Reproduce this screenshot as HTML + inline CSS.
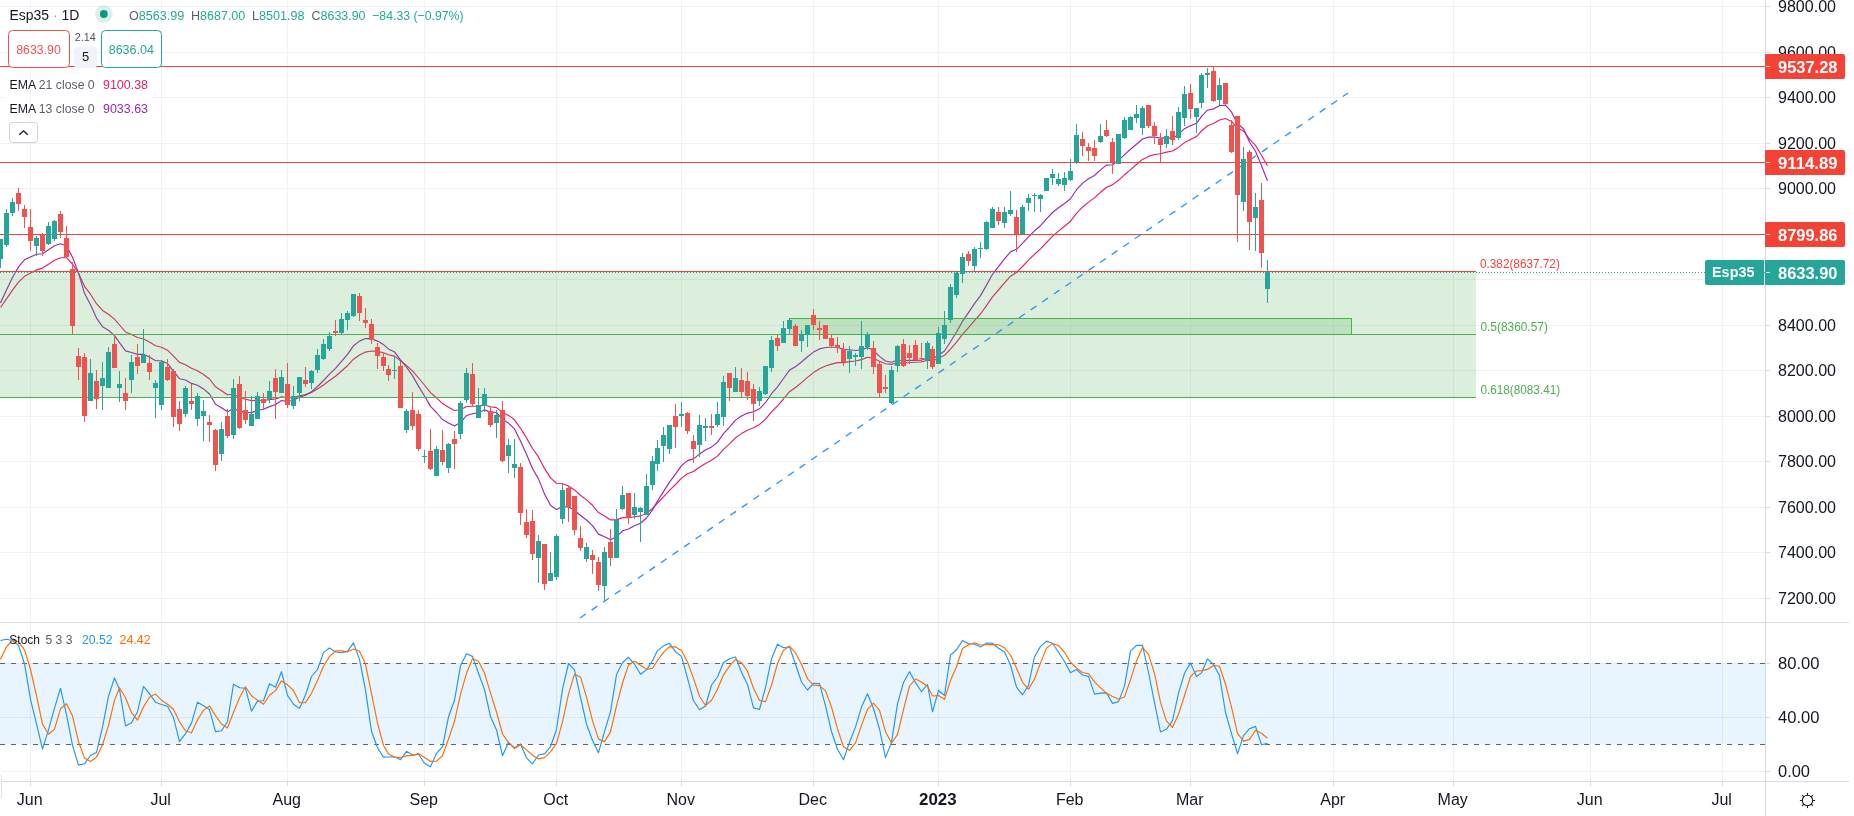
<!DOCTYPE html><html><head><meta charset="utf-8"><title>Esp35 chart</title><style>html,body{margin:0;padding:0;background:#fff;overflow:hidden}svg{display:block;will-change:transform}</style></head><body><svg width="1854" height="816" viewBox="0 0 1854 816" font-family="'Liberation Sans', sans-serif">
<rect width="1854" height="816" fill="#fff"/>
<g shape-rendering="crispEdges" fill="#f0f1f3">
<rect x="30" y="0" width="1" height="781"/>
<rect x="161" y="0" width="1" height="781"/>
<rect x="287" y="0" width="1" height="781"/>
<rect x="424" y="0" width="1" height="781"/>
<rect x="556" y="0" width="1" height="781"/>
<rect x="681" y="0" width="1" height="781"/>
<rect x="813" y="0" width="1" height="781"/>
<rect x="938" y="0" width="1" height="781"/>
<rect x="1070" y="0" width="1" height="781"/>
<rect x="1190" y="0" width="1" height="781"/>
<rect x="1333" y="0" width="1" height="781"/>
<rect x="1453" y="0" width="1" height="781"/>
<rect x="1590" y="0" width="1" height="781"/>
<rect x="1722" y="0" width="1" height="781"/>
<rect x="0" y="598" width="1765" height="1"/>
<rect x="0" y="552" width="1765" height="1"/>
<rect x="0" y="507" width="1765" height="1"/>
<rect x="0" y="461" width="1765" height="1"/>
<rect x="0" y="416" width="1765" height="1"/>
<rect x="0" y="370" width="1765" height="1"/>
<rect x="0" y="325" width="1765" height="1"/>
<rect x="0" y="279" width="1765" height="1"/>
<rect x="0" y="234" width="1765" height="1"/>
<rect x="0" y="188" width="1765" height="1"/>
<rect x="0" y="143" width="1765" height="1"/>
<rect x="0" y="97" width="1765" height="1"/>
<rect x="0" y="52" width="1765" height="1"/>
<rect x="0" y="6" width="1765" height="1"/>
<rect x="0" y="771" width="1765" height="1"/>
<rect x="0" y="717" width="1765" height="1"/>
<rect x="0" y="663" width="1765" height="1"/>
</g>
<polyline points="0.5,307.5 6.5,298.9 12.5,290.1 18.5,282.2 24.5,276.3 30.5,273.1 36.5,269.9 42.5,268.1 48.5,264.3 54.5,260.3 60.5,257.8 66.5,257.7 72.5,264.0 78.5,273.3 84.5,286.3 90.5,294.2 96.5,303.7 102.5,310.4 108.5,314.2 114.5,319.1 119.5,325.0 125.5,331.9 131.5,334.6 137.5,337.5 143.5,339.0 149.5,342.0 155.5,345.8 161.5,347.2 167.5,350.2 173.5,356.2 179.5,362.4 185.5,364.7 191.5,368.2 197.5,370.8 203.5,374.5 209.5,379.0 215.5,386.8 221.5,390.7 227.5,394.8 233.5,394.2 239.5,397.2 245.5,399.3 251.5,400.6 257.5,400.2 263.5,400.4 269.5,399.6 275.5,398.9 281.5,396.9 287.5,397.6 293.5,397.5 299.5,395.7 305.5,394.6 311.5,392.4 317.5,389.0 323.5,385.0 329.5,380.5 335.5,376.2 341.5,371.0 347.5,365.7 353.5,359.2 359.5,355.0 365.5,352.1 371.5,351.0 377.5,351.4 383.5,352.7 388.5,354.7 394.5,356.1 400.5,360.8 406.5,365.4 412.5,370.9 418.5,378.0 424.5,385.0 430.5,392.6 436.5,397.8 442.5,403.6 448.5,407.2 454.5,410.5 460.5,409.8 466.5,406.5 472.5,406.2 478.5,406.1 484.5,405.0 490.5,406.8 496.5,407.6 502.5,412.4 508.5,415.4 514.5,419.8 520.5,428.3 526.5,437.9 532.5,448.5 538.5,456.9 544.5,468.4 550.5,477.9 556.5,483.2 562.5,483.8 568.5,486.0 574.5,489.9 580.5,495.2 586.5,499.9 592.5,505.3 598.5,512.6 604.5,516.1 610.5,519.9 616.5,519.9 622.5,517.6 628.5,517.7 634.5,516.7 640.5,515.9 646.5,513.2 652.5,508.5 657.5,503.0 663.5,496.8 669.5,490.3 675.5,484.5 681.5,478.1 687.5,473.8 693.5,471.5 699.5,467.3 705.5,463.6 711.5,460.3 717.5,456.1 723.5,449.4 729.5,443.8 735.5,437.8 741.5,433.6 747.5,430.2 753.5,427.8 759.5,424.4 765.5,419.1 771.5,411.9 777.5,405.9 783.5,398.8 789.5,391.7 795.5,387.5 801.5,382.6 807.5,377.4 813.5,372.6 819.5,368.7 825.5,366.0 831.5,364.1 837.5,362.6 843.5,362.6 849.5,361.6 855.5,361.0 861.5,359.6 867.5,357.3 873.5,358.2 879.5,361.3 885.5,363.8 891.5,364.4 897.5,362.7 903.5,363.0 909.5,362.5 915.5,362.3 921.5,362.0 927.5,360.3 932.5,360.9 938.5,358.3 944.5,355.3 950.5,349.1 956.5,342.2 962.5,334.4 968.5,327.7 974.5,320.6 980.5,314.0 986.5,305.6 992.5,296.9 998.5,290.0 1004.5,282.9 1010.5,276.2 1016.5,272.4 1022.5,266.5 1028.5,260.2 1034.5,254.3 1040.5,248.9 1046.5,242.5 1052.5,236.3 1058.5,231.1 1064.5,226.3 1070.5,221.2 1076.5,213.4 1082.5,207.2 1088.5,202.1 1094.5,197.9 1100.5,192.3 1106.5,187.2 1112.5,184.9 1118.5,180.3 1124.5,174.8 1130.5,169.6 1136.5,164.5 1142.5,159.4 1148.5,156.4 1154.5,154.5 1160.5,153.7 1166.5,152.1 1172.5,151.0 1178.5,147.4 1184.5,142.6 1190.5,139.5 1196.5,136.6 1201.5,131.0 1207.5,125.8 1213.5,123.5 1219.5,120.0 1225.5,118.5 1231.5,121.5 1237.5,128.2 1243.5,131.0 1249.5,139.2 1255.5,145.4 1261.5,155.2 1267.5,165.8" fill="none" stroke="#e91e63" stroke-width="1.15" stroke-linejoin="round"/>
<polyline points="0.5,302.9 6.5,290.1 12.5,277.5 18.5,266.9 24.5,259.8 30.5,257.1 36.5,254.3 42.5,253.8 48.5,249.8 54.5,245.7 60.5,243.8 66.5,245.7 72.5,257.2 78.5,272.9 84.5,293.3 90.5,304.7 96.5,318.1 102.5,326.7 108.5,330.3 114.5,335.6 119.5,342.6 125.5,350.9 131.5,352.5 137.5,354.4 143.5,354.4 149.5,357.0 155.5,360.7 161.5,360.8 167.5,363.6 173.5,371.1 179.5,378.7 185.5,380.0 191.5,383.4 197.5,385.2 203.5,388.9 209.5,394.0 215.5,404.2 221.5,407.7 227.5,411.8 233.5,408.4 239.5,411.1 245.5,412.4 251.5,412.6 257.5,410.2 263.5,409.2 269.5,406.6 275.5,404.5 281.5,400.6 287.5,401.2 293.5,400.5 299.5,397.1 305.5,395.2 311.5,391.8 317.5,386.5 323.5,380.5 329.5,374.2 335.5,368.3 341.5,361.3 347.5,354.4 353.5,345.8 359.5,341.1 365.5,338.5 371.5,338.6 377.5,341.1 383.5,344.6 388.5,348.9 394.5,351.9 400.5,359.9 406.5,367.2 412.5,375.6 418.5,386.1 424.5,396.0 430.5,406.4 436.5,412.5 442.5,419.5 448.5,423.0 454.5,425.9 460.5,422.6 466.5,415.5 472.5,413.8 478.5,412.6 484.5,409.9 490.5,412.1 496.5,412.5 502.5,419.4 508.5,423.1 514.5,428.9 520.5,440.9 526.5,454.3 532.5,468.5 538.5,478.9 544.5,493.9 550.5,505.2 556.5,509.6 562.5,506.8 568.5,506.9 574.5,510.1 580.5,515.5 586.5,520.0 592.5,525.7 598.5,534.1 604.5,536.7 610.5,539.7 616.5,536.8 622.5,530.8 628.5,529.0 634.5,525.8 640.5,523.3 646.5,518.0 652.5,509.9 657.5,501.0 663.5,491.6 669.5,482.1 675.5,474.2 681.5,465.6 687.5,460.6 693.5,458.9 699.5,454.1 705.5,450.1 711.5,446.9 717.5,442.2 723.5,433.6 729.5,427.1 735.5,420.1 741.5,416.0 747.5,413.1 753.5,411.8 759.5,408.8 765.5,402.7 771.5,393.7 777.5,386.9 783.5,378.5 789.5,370.1 795.5,366.7 801.5,362.0 807.5,356.7 813.5,352.1 819.5,348.9 825.5,347.5 831.5,347.2 837.5,347.3 843.5,349.4 849.5,349.7 855.5,350.5 861.5,349.8 867.5,347.6 873.5,350.3 879.5,356.4 885.5,361.0 891.5,362.3 897.5,360.0 903.5,360.8 909.5,360.4 915.5,360.4 921.5,360.2 927.5,357.7 932.5,359.0 938.5,355.3 944.5,351.0 950.5,341.8 956.5,332.0 962.5,321.3 968.5,312.6 974.5,303.6 980.5,295.6 986.5,285.1 992.5,274.3 998.5,266.6 1004.5,258.8 1010.5,251.9 1016.5,249.3 1022.5,243.3 1028.5,236.8 1034.5,230.8 1040.5,225.7 1046.5,218.9 1052.5,212.5 1058.5,207.7 1064.5,203.5 1070.5,198.8 1076.5,189.7 1082.5,183.4 1088.5,178.8 1094.5,175.5 1100.5,169.9 1106.5,165.1 1112.5,164.7 1118.5,160.3 1124.5,154.6 1130.5,149.2 1136.5,144.2 1142.5,139.0 1148.5,137.1 1154.5,137.0 1160.5,138.1 1166.5,137.9 1172.5,138.2 1178.5,134.4 1184.5,128.7 1190.5,125.8 1196.5,123.3 1201.5,116.4 1207.5,110.2 1213.5,108.9 1219.5,105.5 1225.5,105.2 1231.5,111.9 1237.5,123.7 1243.5,128.7 1249.5,142.0 1255.5,151.3 1261.5,165.8 1267.5,180.9" fill="none" stroke="#9c27b0" stroke-width="1.15" stroke-linejoin="round"/>
<rect x="0" y="271.5" width="1476" height="126" fill="#4caf50" fill-opacity="0.2"/>
<rect x="789.5" y="318.5" width="562" height="16" fill="#4caf50" fill-opacity="0.2" stroke="#4caf50" stroke-width="1"/>
<g shape-rendering="crispEdges">
<rect x="0" y="271" width="1476" height="1" fill="#f44336"/>
<rect x="0" y="334" width="1476" height="1" fill="#4caf50"/>
<rect x="0" y="397" width="1476" height="1" fill="#4caf50"/>
<rect x="0" y="66" width="1765" height="1" fill="#f44336"/>
<rect x="0" y="162" width="1765" height="1" fill="#f44336"/>
<rect x="0" y="234" width="1765" height="1" fill="#f44336"/>
</g>
<line x1="580" y1="618" x2="1348" y2="93" stroke="#2196f3" stroke-width="1.3" stroke-dasharray="7 7"/>
<g shape-rendering="crispEdges">
<rect x="0" y="239" width="1" height="29" fill="#26a69a"/>
<rect x="-2" y="239" width="5" height="20" fill="#26a69a"/>
<rect x="6" y="209" width="1" height="38" fill="#26a69a"/>
<rect x="4" y="213" width="5" height="32" fill="#26a69a"/>
<rect x="12" y="198" width="1" height="18" fill="#26a69a"/>
<rect x="10" y="202" width="5" height="11" fill="#26a69a"/>
<rect x="18" y="188" width="1" height="23" fill="#ef5350"/>
<rect x="16" y="193" width="5" height="11" fill="#ef5350"/>
<rect x="24" y="205" width="1" height="23" fill="#ef5350"/>
<rect x="22" y="209" width="5" height="8" fill="#ef5350"/>
<rect x="30" y="209" width="1" height="42" fill="#ef5350"/>
<rect x="28" y="227" width="5" height="14" fill="#ef5350"/>
<rect x="36" y="236" width="1" height="20" fill="#26a69a"/>
<rect x="34" y="238" width="5" height="8" fill="#26a69a"/>
<rect x="42" y="233" width="1" height="23" fill="#ef5350"/>
<rect x="40" y="234" width="5" height="17" fill="#ef5350"/>
<rect x="48" y="222" width="1" height="23" fill="#26a69a"/>
<rect x="46" y="226" width="5" height="18" fill="#26a69a"/>
<rect x="54" y="220" width="1" height="21" fill="#26a69a"/>
<rect x="52" y="221" width="5" height="18" fill="#26a69a"/>
<rect x="60" y="211" width="1" height="27" fill="#ef5350"/>
<rect x="58" y="214" width="5" height="18" fill="#ef5350"/>
<rect x="66" y="226" width="1" height="31" fill="#ef5350"/>
<rect x="64" y="238" width="5" height="19" fill="#ef5350"/>
<rect x="72" y="262" width="1" height="72" fill="#ef5350"/>
<rect x="70" y="269" width="5" height="57" fill="#ef5350"/>
<rect x="78" y="348" width="1" height="32" fill="#ef5350"/>
<rect x="76" y="356" width="5" height="11" fill="#ef5350"/>
<rect x="84" y="353" width="1" height="69" fill="#ef5350"/>
<rect x="82" y="357" width="5" height="59" fill="#ef5350"/>
<rect x="90" y="359" width="1" height="42" fill="#26a69a"/>
<rect x="88" y="373" width="5" height="28" fill="#26a69a"/>
<rect x="96" y="370" width="1" height="39" fill="#ef5350"/>
<rect x="94" y="381" width="5" height="18" fill="#ef5350"/>
<rect x="102" y="362" width="1" height="48" fill="#26a69a"/>
<rect x="100" y="378" width="5" height="8" fill="#26a69a"/>
<rect x="108" y="347" width="1" height="41" fill="#26a69a"/>
<rect x="106" y="352" width="5" height="36" fill="#26a69a"/>
<rect x="114" y="334" width="1" height="34" fill="#ef5350"/>
<rect x="112" y="344" width="5" height="24" fill="#ef5350"/>
<rect x="119" y="371" width="1" height="31" fill="#26a69a"/>
<rect x="117" y="384" width="5" height="4" fill="#26a69a"/>
<rect x="125" y="378" width="1" height="32" fill="#ef5350"/>
<rect x="123" y="393" width="5" height="8" fill="#ef5350"/>
<rect x="131" y="355" width="1" height="38" fill="#26a69a"/>
<rect x="129" y="362" width="5" height="18" fill="#26a69a"/>
<rect x="137" y="344" width="1" height="30" fill="#ef5350"/>
<rect x="135" y="357" width="5" height="9" fill="#ef5350"/>
<rect x="143" y="329" width="1" height="34" fill="#26a69a"/>
<rect x="141" y="355" width="5" height="8" fill="#26a69a"/>
<rect x="149" y="355" width="1" height="25" fill="#ef5350"/>
<rect x="147" y="363" width="5" height="9" fill="#ef5350"/>
<rect x="155" y="380" width="1" height="38" fill="#26a69a"/>
<rect x="153" y="383" width="5" height="5" fill="#26a69a"/>
<rect x="161" y="361" width="1" height="49" fill="#26a69a"/>
<rect x="159" y="362" width="5" height="43" fill="#26a69a"/>
<rect x="167" y="359" width="1" height="22" fill="#ef5350"/>
<rect x="165" y="367" width="5" height="13" fill="#ef5350"/>
<rect x="173" y="369" width="1" height="58" fill="#ef5350"/>
<rect x="171" y="371" width="5" height="46" fill="#ef5350"/>
<rect x="179" y="401" width="1" height="30" fill="#ef5350"/>
<rect x="177" y="409" width="5" height="15" fill="#ef5350"/>
<rect x="185" y="386" width="1" height="31" fill="#26a69a"/>
<rect x="183" y="388" width="5" height="26" fill="#26a69a"/>
<rect x="191" y="384" width="1" height="26" fill="#ef5350"/>
<rect x="189" y="401" width="5" height="3" fill="#ef5350"/>
<rect x="197" y="393" width="1" height="33" fill="#26a69a"/>
<rect x="195" y="396" width="5" height="23" fill="#26a69a"/>
<rect x="203" y="400" width="1" height="41" fill="#26a69a"/>
<rect x="201" y="411" width="5" height="5" fill="#26a69a"/>
<rect x="209" y="415" width="1" height="27" fill="#ef5350"/>
<rect x="207" y="422" width="5" height="3" fill="#ef5350"/>
<rect x="215" y="429" width="1" height="42" fill="#ef5350"/>
<rect x="213" y="430" width="5" height="35" fill="#ef5350"/>
<rect x="221" y="422" width="1" height="39" fill="#26a69a"/>
<rect x="219" y="429" width="5" height="25" fill="#26a69a"/>
<rect x="227" y="409" width="1" height="29" fill="#ef5350"/>
<rect x="225" y="416" width="5" height="20" fill="#ef5350"/>
<rect x="233" y="379" width="1" height="60" fill="#26a69a"/>
<rect x="231" y="388" width="5" height="47" fill="#26a69a"/>
<rect x="239" y="376" width="1" height="53" fill="#ef5350"/>
<rect x="237" y="384" width="5" height="44" fill="#ef5350"/>
<rect x="245" y="391" width="1" height="33" fill="#ef5350"/>
<rect x="243" y="410" width="5" height="10" fill="#ef5350"/>
<rect x="251" y="396" width="1" height="30" fill="#26a69a"/>
<rect x="249" y="414" width="5" height="12" fill="#26a69a"/>
<rect x="257" y="392" width="1" height="27" fill="#26a69a"/>
<rect x="255" y="396" width="5" height="23" fill="#26a69a"/>
<rect x="263" y="393" width="1" height="16" fill="#ef5350"/>
<rect x="261" y="399" width="5" height="4" fill="#ef5350"/>
<rect x="269" y="381" width="1" height="22" fill="#26a69a"/>
<rect x="267" y="391" width="5" height="8" fill="#26a69a"/>
<rect x="275" y="369" width="1" height="50" fill="#ef5350"/>
<rect x="273" y="378" width="5" height="14" fill="#ef5350"/>
<rect x="281" y="370" width="1" height="23" fill="#26a69a"/>
<rect x="279" y="377" width="5" height="16" fill="#26a69a"/>
<rect x="287" y="363" width="1" height="45" fill="#ef5350"/>
<rect x="285" y="384" width="5" height="21" fill="#ef5350"/>
<rect x="293" y="386" width="1" height="23" fill="#26a69a"/>
<rect x="291" y="396" width="5" height="10" fill="#26a69a"/>
<rect x="299" y="377" width="1" height="24" fill="#26a69a"/>
<rect x="297" y="377" width="5" height="16" fill="#26a69a"/>
<rect x="305" y="367" width="1" height="20" fill="#ef5350"/>
<rect x="303" y="380" width="5" height="4" fill="#ef5350"/>
<rect x="311" y="370" width="1" height="19" fill="#26a69a"/>
<rect x="309" y="371" width="5" height="12" fill="#26a69a"/>
<rect x="317" y="349" width="1" height="24" fill="#26a69a"/>
<rect x="315" y="355" width="5" height="15" fill="#26a69a"/>
<rect x="323" y="339" width="1" height="21" fill="#26a69a"/>
<rect x="321" y="344" width="5" height="15" fill="#26a69a"/>
<rect x="329" y="332" width="1" height="19" fill="#26a69a"/>
<rect x="327" y="336" width="5" height="13" fill="#26a69a"/>
<rect x="335" y="320" width="1" height="16" fill="#ef5350"/>
<rect x="333" y="331" width="5" height="2" fill="#ef5350"/>
<rect x="341" y="313" width="1" height="21" fill="#26a69a"/>
<rect x="339" y="319" width="5" height="14" fill="#26a69a"/>
<rect x="347" y="311" width="1" height="19" fill="#26a69a"/>
<rect x="345" y="313" width="5" height="7" fill="#26a69a"/>
<rect x="353" y="294" width="1" height="23" fill="#26a69a"/>
<rect x="351" y="294" width="5" height="22" fill="#26a69a"/>
<rect x="359" y="293" width="1" height="28" fill="#ef5350"/>
<rect x="357" y="296" width="5" height="17" fill="#ef5350"/>
<rect x="365" y="308" width="1" height="20" fill="#ef5350"/>
<rect x="363" y="320" width="5" height="3" fill="#ef5350"/>
<rect x="371" y="319" width="1" height="25" fill="#ef5350"/>
<rect x="369" y="324" width="5" height="16" fill="#ef5350"/>
<rect x="377" y="343" width="1" height="26" fill="#ef5350"/>
<rect x="375" y="347" width="5" height="9" fill="#ef5350"/>
<rect x="383" y="353" width="1" height="18" fill="#ef5350"/>
<rect x="381" y="357" width="5" height="9" fill="#ef5350"/>
<rect x="388" y="365" width="1" height="16" fill="#ef5350"/>
<rect x="386" y="369" width="5" height="6" fill="#ef5350"/>
<rect x="394" y="356" width="1" height="23" fill="#26a69a"/>
<rect x="392" y="370" width="5" height="1" fill="#26a69a"/>
<rect x="400" y="361" width="1" height="47" fill="#ef5350"/>
<rect x="398" y="366" width="5" height="42" fill="#ef5350"/>
<rect x="406" y="409" width="1" height="24" fill="#26a69a"/>
<rect x="404" y="411" width="5" height="19" fill="#26a69a"/>
<rect x="412" y="392" width="1" height="38" fill="#ef5350"/>
<rect x="410" y="410" width="5" height="16" fill="#ef5350"/>
<rect x="418" y="410" width="1" height="41" fill="#ef5350"/>
<rect x="416" y="414" width="5" height="35" fill="#ef5350"/>
<rect x="424" y="450" width="1" height="13" fill="#26a69a"/>
<rect x="422" y="456" width="5" height="1" fill="#26a69a"/>
<rect x="430" y="429" width="1" height="41" fill="#ef5350"/>
<rect x="428" y="451" width="5" height="18" fill="#ef5350"/>
<rect x="436" y="446" width="1" height="30" fill="#26a69a"/>
<rect x="434" y="449" width="5" height="27" fill="#26a69a"/>
<rect x="442" y="430" width="1" height="35" fill="#ef5350"/>
<rect x="440" y="450" width="5" height="12" fill="#ef5350"/>
<rect x="448" y="443" width="1" height="30" fill="#26a69a"/>
<rect x="446" y="444" width="5" height="24" fill="#26a69a"/>
<rect x="454" y="431" width="1" height="38" fill="#ef5350"/>
<rect x="452" y="439" width="5" height="5" fill="#ef5350"/>
<rect x="460" y="401" width="1" height="38" fill="#26a69a"/>
<rect x="458" y="403" width="5" height="31" fill="#26a69a"/>
<rect x="466" y="368" width="1" height="35" fill="#26a69a"/>
<rect x="464" y="373" width="5" height="27" fill="#26a69a"/>
<rect x="472" y="363" width="1" height="43" fill="#ef5350"/>
<rect x="470" y="374" width="5" height="30" fill="#ef5350"/>
<rect x="478" y="388" width="1" height="30" fill="#26a69a"/>
<rect x="476" y="405" width="5" height="13" fill="#26a69a"/>
<rect x="484" y="388" width="1" height="24" fill="#26a69a"/>
<rect x="482" y="394" width="5" height="12" fill="#26a69a"/>
<rect x="490" y="407" width="1" height="20" fill="#ef5350"/>
<rect x="488" y="411" width="5" height="14" fill="#ef5350"/>
<rect x="496" y="410" width="1" height="28" fill="#26a69a"/>
<rect x="494" y="415" width="5" height="8" fill="#26a69a"/>
<rect x="502" y="401" width="1" height="61" fill="#ef5350"/>
<rect x="500" y="410" width="5" height="51" fill="#ef5350"/>
<rect x="508" y="439" width="1" height="34" fill="#26a69a"/>
<rect x="506" y="445" width="5" height="11" fill="#26a69a"/>
<rect x="514" y="439" width="1" height="39" fill="#26a69a"/>
<rect x="512" y="464" width="5" height="4" fill="#26a69a"/>
<rect x="520" y="463" width="1" height="62" fill="#ef5350"/>
<rect x="518" y="467" width="5" height="46" fill="#ef5350"/>
<rect x="526" y="509" width="1" height="29" fill="#ef5350"/>
<rect x="524" y="522" width="5" height="13" fill="#ef5350"/>
<rect x="532" y="510" width="1" height="50" fill="#ef5350"/>
<rect x="530" y="521" width="5" height="33" fill="#ef5350"/>
<rect x="538" y="535" width="1" height="48" fill="#26a69a"/>
<rect x="536" y="541" width="5" height="17" fill="#26a69a"/>
<rect x="544" y="544" width="1" height="46" fill="#ef5350"/>
<rect x="542" y="544" width="5" height="40" fill="#ef5350"/>
<rect x="550" y="552" width="1" height="29" fill="#26a69a"/>
<rect x="548" y="573" width="5" height="8" fill="#26a69a"/>
<rect x="556" y="534" width="1" height="46" fill="#26a69a"/>
<rect x="554" y="536" width="5" height="41" fill="#26a69a"/>
<rect x="562" y="484" width="1" height="40" fill="#26a69a"/>
<rect x="560" y="490" width="5" height="29" fill="#26a69a"/>
<rect x="568" y="486" width="1" height="36" fill="#ef5350"/>
<rect x="566" y="488" width="5" height="19" fill="#ef5350"/>
<rect x="574" y="496" width="1" height="39" fill="#ef5350"/>
<rect x="572" y="496" width="5" height="34" fill="#ef5350"/>
<rect x="580" y="526" width="1" height="25" fill="#ef5350"/>
<rect x="578" y="538" width="5" height="10" fill="#ef5350"/>
<rect x="586" y="543" width="1" height="19" fill="#26a69a"/>
<rect x="584" y="547" width="5" height="12" fill="#26a69a"/>
<rect x="592" y="550" width="1" height="24" fill="#ef5350"/>
<rect x="590" y="555" width="5" height="5" fill="#ef5350"/>
<rect x="598" y="557" width="1" height="34" fill="#ef5350"/>
<rect x="596" y="562" width="5" height="23" fill="#ef5350"/>
<rect x="604" y="547" width="1" height="55" fill="#26a69a"/>
<rect x="602" y="552" width="5" height="34" fill="#26a69a"/>
<rect x="610" y="529" width="1" height="37" fill="#ef5350"/>
<rect x="608" y="542" width="5" height="16" fill="#ef5350"/>
<rect x="616" y="509" width="1" height="49" fill="#26a69a"/>
<rect x="614" y="520" width="5" height="38" fill="#26a69a"/>
<rect x="622" y="486" width="1" height="24" fill="#26a69a"/>
<rect x="620" y="495" width="5" height="14" fill="#26a69a"/>
<rect x="628" y="493" width="1" height="31" fill="#ef5350"/>
<rect x="626" y="493" width="5" height="25" fill="#ef5350"/>
<rect x="634" y="493" width="1" height="26" fill="#26a69a"/>
<rect x="632" y="507" width="5" height="8" fill="#26a69a"/>
<rect x="640" y="507" width="1" height="35" fill="#26a69a"/>
<rect x="638" y="508" width="5" height="4" fill="#26a69a"/>
<rect x="646" y="474" width="1" height="41" fill="#26a69a"/>
<rect x="644" y="486" width="5" height="29" fill="#26a69a"/>
<rect x="652" y="456" width="1" height="34" fill="#26a69a"/>
<rect x="650" y="461" width="5" height="24" fill="#26a69a"/>
<rect x="657" y="440" width="1" height="31" fill="#26a69a"/>
<rect x="655" y="448" width="5" height="16" fill="#26a69a"/>
<rect x="663" y="427" width="1" height="35" fill="#26a69a"/>
<rect x="661" y="435" width="5" height="11" fill="#26a69a"/>
<rect x="669" y="425" width="1" height="29" fill="#26a69a"/>
<rect x="667" y="425" width="5" height="24" fill="#26a69a"/>
<rect x="675" y="404" width="1" height="44" fill="#ef5350"/>
<rect x="673" y="416" width="5" height="11" fill="#ef5350"/>
<rect x="681" y="402" width="1" height="25" fill="#26a69a"/>
<rect x="679" y="414" width="5" height="2" fill="#26a69a"/>
<rect x="687" y="412" width="1" height="22" fill="#ef5350"/>
<rect x="685" y="413" width="5" height="18" fill="#ef5350"/>
<rect x="693" y="435" width="1" height="28" fill="#ef5350"/>
<rect x="691" y="441" width="5" height="8" fill="#ef5350"/>
<rect x="699" y="415" width="1" height="42" fill="#26a69a"/>
<rect x="697" y="425" width="5" height="20" fill="#26a69a"/>
<rect x="705" y="418" width="1" height="23" fill="#26a69a"/>
<rect x="703" y="426" width="5" height="2" fill="#26a69a"/>
<rect x="711" y="414" width="1" height="21" fill="#ef5350"/>
<rect x="709" y="426" width="5" height="2" fill="#ef5350"/>
<rect x="717" y="402" width="1" height="25" fill="#26a69a"/>
<rect x="715" y="414" width="5" height="11" fill="#26a69a"/>
<rect x="723" y="376" width="1" height="50" fill="#26a69a"/>
<rect x="721" y="382" width="5" height="35" fill="#26a69a"/>
<rect x="729" y="373" width="1" height="28" fill="#ef5350"/>
<rect x="727" y="373" width="5" height="15" fill="#ef5350"/>
<rect x="735" y="367" width="1" height="25" fill="#26a69a"/>
<rect x="733" y="378" width="5" height="14" fill="#26a69a"/>
<rect x="741" y="368" width="1" height="29" fill="#ef5350"/>
<rect x="739" y="380" width="5" height="12" fill="#ef5350"/>
<rect x="747" y="372" width="1" height="28" fill="#ef5350"/>
<rect x="745" y="381" width="5" height="15" fill="#ef5350"/>
<rect x="753" y="384" width="1" height="37" fill="#ef5350"/>
<rect x="751" y="389" width="5" height="15" fill="#ef5350"/>
<rect x="759" y="387" width="1" height="19" fill="#26a69a"/>
<rect x="757" y="391" width="5" height="10" fill="#26a69a"/>
<rect x="765" y="366" width="1" height="29" fill="#26a69a"/>
<rect x="763" y="366" width="5" height="28" fill="#26a69a"/>
<rect x="771" y="336" width="1" height="36" fill="#26a69a"/>
<rect x="769" y="340" width="5" height="28" fill="#26a69a"/>
<rect x="777" y="335" width="1" height="16" fill="#ef5350"/>
<rect x="775" y="338" width="5" height="8" fill="#ef5350"/>
<rect x="783" y="321" width="1" height="22" fill="#26a69a"/>
<rect x="781" y="328" width="5" height="15" fill="#26a69a"/>
<rect x="789" y="318" width="1" height="16" fill="#26a69a"/>
<rect x="787" y="320" width="5" height="9" fill="#26a69a"/>
<rect x="795" y="324" width="1" height="22" fill="#ef5350"/>
<rect x="793" y="326" width="5" height="20" fill="#ef5350"/>
<rect x="801" y="330" width="1" height="22" fill="#26a69a"/>
<rect x="799" y="334" width="5" height="7" fill="#26a69a"/>
<rect x="807" y="325" width="1" height="22" fill="#26a69a"/>
<rect x="805" y="325" width="5" height="10" fill="#26a69a"/>
<rect x="813" y="309" width="1" height="21" fill="#ef5350"/>
<rect x="811" y="315" width="5" height="10" fill="#ef5350"/>
<rect x="819" y="321" width="1" height="19" fill="#ef5350"/>
<rect x="817" y="328" width="5" height="2" fill="#ef5350"/>
<rect x="825" y="325" width="1" height="14" fill="#ef5350"/>
<rect x="823" y="325" width="5" height="14" fill="#ef5350"/>
<rect x="831" y="334" width="1" height="14" fill="#ef5350"/>
<rect x="829" y="338" width="5" height="8" fill="#ef5350"/>
<rect x="837" y="337" width="1" height="16" fill="#ef5350"/>
<rect x="835" y="345" width="5" height="3" fill="#ef5350"/>
<rect x="843" y="343" width="1" height="23" fill="#ef5350"/>
<rect x="841" y="349" width="5" height="13" fill="#ef5350"/>
<rect x="849" y="346" width="1" height="27" fill="#26a69a"/>
<rect x="847" y="351" width="5" height="8" fill="#26a69a"/>
<rect x="855" y="353" width="1" height="13" fill="#26a69a"/>
<rect x="853" y="355" width="5" height="2" fill="#26a69a"/>
<rect x="861" y="321" width="1" height="48" fill="#26a69a"/>
<rect x="859" y="346" width="5" height="11" fill="#26a69a"/>
<rect x="867" y="332" width="1" height="18" fill="#26a69a"/>
<rect x="865" y="334" width="5" height="13" fill="#26a69a"/>
<rect x="873" y="341" width="1" height="33" fill="#ef5350"/>
<rect x="871" y="348" width="5" height="19" fill="#ef5350"/>
<rect x="879" y="362" width="1" height="36" fill="#ef5350"/>
<rect x="877" y="364" width="5" height="29" fill="#ef5350"/>
<rect x="885" y="375" width="1" height="18" fill="#ef5350"/>
<rect x="883" y="387" width="5" height="2" fill="#ef5350"/>
<rect x="891" y="366" width="1" height="38" fill="#26a69a"/>
<rect x="889" y="370" width="5" height="33" fill="#26a69a"/>
<rect x="897" y="345" width="1" height="27" fill="#26a69a"/>
<rect x="895" y="346" width="5" height="20" fill="#26a69a"/>
<rect x="903" y="339" width="1" height="28" fill="#ef5350"/>
<rect x="901" y="344" width="5" height="22" fill="#ef5350"/>
<rect x="909" y="345" width="1" height="19" fill="#ef5350"/>
<rect x="907" y="353" width="5" height="5" fill="#ef5350"/>
<rect x="915" y="340" width="1" height="21" fill="#ef5350"/>
<rect x="913" y="345" width="5" height="15" fill="#ef5350"/>
<rect x="921" y="343" width="1" height="19" fill="#ef5350"/>
<rect x="919" y="358" width="5" height="1" fill="#ef5350"/>
<rect x="927" y="341" width="1" height="28" fill="#26a69a"/>
<rect x="925" y="343" width="5" height="17" fill="#26a69a"/>
<rect x="932" y="346" width="1" height="23" fill="#ef5350"/>
<rect x="930" y="349" width="5" height="18" fill="#ef5350"/>
<rect x="938" y="327" width="1" height="37" fill="#26a69a"/>
<rect x="936" y="333" width="5" height="31" fill="#26a69a"/>
<rect x="944" y="311" width="1" height="33" fill="#26a69a"/>
<rect x="942" y="325" width="5" height="14" fill="#26a69a"/>
<rect x="950" y="284" width="1" height="39" fill="#26a69a"/>
<rect x="948" y="287" width="5" height="33" fill="#26a69a"/>
<rect x="956" y="271" width="1" height="27" fill="#26a69a"/>
<rect x="954" y="273" width="5" height="22" fill="#26a69a"/>
<rect x="962" y="253" width="1" height="30" fill="#26a69a"/>
<rect x="960" y="257" width="5" height="17" fill="#26a69a"/>
<rect x="968" y="251" width="1" height="15" fill="#ef5350"/>
<rect x="966" y="254" width="5" height="7" fill="#ef5350"/>
<rect x="974" y="247" width="1" height="24" fill="#26a69a"/>
<rect x="972" y="249" width="5" height="17" fill="#26a69a"/>
<rect x="980" y="242" width="1" height="16" fill="#26a69a"/>
<rect x="978" y="248" width="5" height="1" fill="#26a69a"/>
<rect x="986" y="221" width="1" height="29" fill="#26a69a"/>
<rect x="984" y="222" width="5" height="27" fill="#26a69a"/>
<rect x="992" y="207" width="1" height="21" fill="#26a69a"/>
<rect x="990" y="209" width="5" height="19" fill="#26a69a"/>
<rect x="998" y="207" width="1" height="18" fill="#ef5350"/>
<rect x="996" y="212" width="5" height="9" fill="#ef5350"/>
<rect x="1004" y="207" width="1" height="21" fill="#26a69a"/>
<rect x="1002" y="212" width="5" height="11" fill="#26a69a"/>
<rect x="1010" y="191" width="1" height="25" fill="#26a69a"/>
<rect x="1008" y="210" width="5" height="4" fill="#26a69a"/>
<rect x="1016" y="210" width="1" height="42" fill="#ef5350"/>
<rect x="1014" y="217" width="5" height="17" fill="#ef5350"/>
<rect x="1022" y="205" width="1" height="29" fill="#26a69a"/>
<rect x="1020" y="207" width="5" height="27" fill="#26a69a"/>
<rect x="1028" y="194" width="1" height="17" fill="#26a69a"/>
<rect x="1026" y="198" width="5" height="5" fill="#26a69a"/>
<rect x="1034" y="193" width="1" height="19" fill="#26a69a"/>
<rect x="1032" y="195" width="5" height="1" fill="#26a69a"/>
<rect x="1040" y="194" width="1" height="18" fill="#26a69a"/>
<rect x="1038" y="195" width="5" height="4" fill="#26a69a"/>
<rect x="1046" y="178" width="1" height="13" fill="#26a69a"/>
<rect x="1044" y="178" width="5" height="13" fill="#26a69a"/>
<rect x="1052" y="169" width="1" height="16" fill="#26a69a"/>
<rect x="1050" y="174" width="5" height="4" fill="#26a69a"/>
<rect x="1058" y="173" width="1" height="13" fill="#26a69a"/>
<rect x="1056" y="179" width="5" height="5" fill="#26a69a"/>
<rect x="1064" y="172" width="1" height="19" fill="#26a69a"/>
<rect x="1062" y="178" width="5" height="7" fill="#26a69a"/>
<rect x="1070" y="159" width="1" height="22" fill="#26a69a"/>
<rect x="1068" y="171" width="5" height="9" fill="#26a69a"/>
<rect x="1076" y="124" width="1" height="40" fill="#26a69a"/>
<rect x="1074" y="135" width="5" height="27" fill="#26a69a"/>
<rect x="1082" y="132" width="1" height="24" fill="#ef5350"/>
<rect x="1080" y="139" width="5" height="7" fill="#ef5350"/>
<rect x="1088" y="143" width="1" height="18" fill="#ef5350"/>
<rect x="1086" y="147" width="5" height="4" fill="#ef5350"/>
<rect x="1094" y="140" width="1" height="21" fill="#ef5350"/>
<rect x="1092" y="148" width="5" height="8" fill="#ef5350"/>
<rect x="1100" y="124" width="1" height="19" fill="#26a69a"/>
<rect x="1098" y="136" width="5" height="6" fill="#26a69a"/>
<rect x="1106" y="120" width="1" height="17" fill="#ef5350"/>
<rect x="1104" y="130" width="5" height="6" fill="#ef5350"/>
<rect x="1112" y="138" width="1" height="36" fill="#ef5350"/>
<rect x="1110" y="142" width="5" height="20" fill="#ef5350"/>
<rect x="1118" y="134" width="1" height="30" fill="#26a69a"/>
<rect x="1116" y="134" width="5" height="30" fill="#26a69a"/>
<rect x="1124" y="117" width="1" height="22" fill="#26a69a"/>
<rect x="1122" y="120" width="5" height="18" fill="#26a69a"/>
<rect x="1130" y="116" width="1" height="14" fill="#26a69a"/>
<rect x="1128" y="117" width="5" height="13" fill="#26a69a"/>
<rect x="1136" y="105" width="1" height="18" fill="#26a69a"/>
<rect x="1134" y="114" width="5" height="4" fill="#26a69a"/>
<rect x="1142" y="106" width="1" height="29" fill="#26a69a"/>
<rect x="1140" y="108" width="5" height="20" fill="#26a69a"/>
<rect x="1148" y="105" width="1" height="23" fill="#ef5350"/>
<rect x="1146" y="105" width="5" height="21" fill="#ef5350"/>
<rect x="1154" y="122" width="1" height="22" fill="#ef5350"/>
<rect x="1152" y="126" width="5" height="10" fill="#ef5350"/>
<rect x="1160" y="133" width="1" height="29" fill="#ef5350"/>
<rect x="1158" y="139" width="5" height="6" fill="#ef5350"/>
<rect x="1166" y="129" width="1" height="19" fill="#26a69a"/>
<rect x="1164" y="136" width="5" height="8" fill="#26a69a"/>
<rect x="1172" y="116" width="1" height="29" fill="#ef5350"/>
<rect x="1170" y="131" width="5" height="9" fill="#ef5350"/>
<rect x="1178" y="107" width="1" height="33" fill="#26a69a"/>
<rect x="1176" y="112" width="5" height="26" fill="#26a69a"/>
<rect x="1184" y="86" width="1" height="40" fill="#26a69a"/>
<rect x="1182" y="94" width="5" height="24" fill="#26a69a"/>
<rect x="1190" y="84" width="1" height="35" fill="#ef5350"/>
<rect x="1188" y="93" width="5" height="16" fill="#ef5350"/>
<rect x="1196" y="108" width="1" height="25" fill="#26a69a"/>
<rect x="1194" y="108" width="5" height="9" fill="#26a69a"/>
<rect x="1201" y="73" width="1" height="35" fill="#26a69a"/>
<rect x="1199" y="75" width="5" height="28" fill="#26a69a"/>
<rect x="1207" y="68" width="1" height="20" fill="#26a69a"/>
<rect x="1205" y="73" width="5" height="2" fill="#26a69a"/>
<rect x="1213" y="67" width="1" height="35" fill="#ef5350"/>
<rect x="1211" y="71" width="5" height="30" fill="#ef5350"/>
<rect x="1219" y="78" width="1" height="27" fill="#26a69a"/>
<rect x="1217" y="85" width="5" height="15" fill="#26a69a"/>
<rect x="1225" y="83" width="1" height="22" fill="#ef5350"/>
<rect x="1223" y="83" width="5" height="21" fill="#ef5350"/>
<rect x="1231" y="120" width="1" height="33" fill="#ef5350"/>
<rect x="1229" y="125" width="5" height="27" fill="#ef5350"/>
<rect x="1237" y="116" width="1" height="126" fill="#ef5350"/>
<rect x="1235" y="116" width="5" height="79" fill="#ef5350"/>
<rect x="1243" y="147" width="1" height="64" fill="#26a69a"/>
<rect x="1241" y="159" width="5" height="43" fill="#26a69a"/>
<rect x="1249" y="150" width="1" height="100" fill="#ef5350"/>
<rect x="1247" y="152" width="5" height="70" fill="#ef5350"/>
<rect x="1255" y="193" width="1" height="58" fill="#26a69a"/>
<rect x="1253" y="207" width="5" height="11" fill="#26a69a"/>
<rect x="1261" y="183" width="1" height="85" fill="#ef5350"/>
<rect x="1259" y="200" width="5" height="53" fill="#ef5350"/>
<rect x="1267" y="260" width="1" height="43" fill="#26a69a"/>
<rect x="1265" y="272" width="5" height="17" fill="#26a69a"/>
</g>
<line x1="0" y1="272.5" x2="1765" y2="272.5" stroke="#26a69a" stroke-width="1" stroke-dasharray="1 2" shape-rendering="crispEdges"/>
<rect x="0" y="663.5" width="1765" height="80.9" fill="#2196f3" fill-opacity="0.1"/>
<line x1="0" y1="663.5" x2="1765" y2="663.5" stroke="#5d6277" stroke-width="1" stroke-dasharray="5 6" shape-rendering="crispEdges"/>
<line x1="0" y1="744.5" x2="1765" y2="744.5" stroke="#5d6277" stroke-width="1" stroke-dasharray="5 6" shape-rendering="crispEdges"/>
<polyline points="0.5,640.5 6.5,639.2 12.5,640.5 18.5,645.4 24.5,663.7 30.5,699.3 36.5,723.9 42.5,749.2 48.5,729.9 54.5,708.2 60.5,688.3 66.5,714.7 72.5,745.3 78.5,765.1 84.5,763.8 90.5,755.5 96.5,752.5 102.5,727.1 108.5,696.3 114.5,677.9 119.5,689.3 125.5,726.0 131.5,722.7 137.5,711.7 143.5,686.4 149.5,693.7 155.5,702.3 161.5,704.5 167.5,706.3 173.5,717.6 179.5,741.6 185.5,733.7 191.5,723.1 197.5,702.2 203.5,705.8 209.5,709.6 215.5,731.6 221.5,730.8 227.5,721.6 233.5,684.2 239.5,687.8 245.5,688.3 251.5,711.1 257.5,701.1 263.5,700.8 269.5,683.7 275.5,687.2 281.5,671.7 287.5,695.4 293.5,704.3 299.5,708.4 305.5,695.1 311.5,676.5 317.5,669.5 323.5,652.6 329.5,647.9 335.5,652.0 341.5,652.7 347.5,651.4 353.5,642.9 359.5,659.4 365.5,690.1 371.5,731.3 377.5,747.7 383.5,757.1 388.5,757.0 394.5,756.8 400.5,759.7 406.5,751.3 412.5,755.1 418.5,754.2 424.5,763.2 430.5,766.8 436.5,753.3 442.5,746.9 448.5,716.8 454.5,700.3 460.5,665.8 466.5,653.8 472.5,656.4 478.5,673.3 484.5,689.6 490.5,716.5 496.5,729.9 502.5,755.7 508.5,742.3 514.5,747.8 520.5,744.1 526.5,757.8 532.5,763.8 538.5,755.0 544.5,753.9 550.5,746.7 556.5,729.5 562.5,689.2 568.5,663.5 574.5,669.9 580.5,697.3 586.5,724.0 592.5,740.5 598.5,752.7 604.5,731.6 610.5,711.6 616.5,674.6 622.5,662.7 628.5,657.3 634.5,664.0 640.5,674.3 646.5,669.9 652.5,660.8 657.5,650.6 663.5,645.9 669.5,643.3 675.5,651.7 681.5,656.4 687.5,678.1 693.5,700.8 699.5,709.8 705.5,706.0 711.5,685.0 717.5,677.0 723.5,662.5 729.5,658.8 735.5,657.0 741.5,672.2 747.5,684.4 753.5,707.9 759.5,709.5 765.5,687.5 771.5,658.7 777.5,644.2 783.5,647.8 789.5,646.7 795.5,664.2 801.5,682.0 807.5,690.0 813.5,683.3 819.5,683.6 825.5,705.8 831.5,731.5 837.5,749.3 843.5,759.7 849.5,742.2 855.5,726.9 861.5,707.1 867.5,693.8 873.5,708.5 879.5,729.0 885.5,757.6 891.5,742.4 897.5,703.8 903.5,682.5 909.5,671.7 915.5,682.6 921.5,691.7 927.5,684.5 932.5,711.8 938.5,690.5 944.5,695.5 950.5,655.1 956.5,649.7 962.5,640.6 968.5,643.8 974.5,644.1 980.5,647.1 986.5,643.0 992.5,643.2 998.5,648.2 1004.5,651.9 1010.5,665.0 1016.5,687.2 1022.5,694.8 1028.5,685.5 1034.5,656.7 1040.5,646.4 1046.5,641.1 1052.5,643.3 1058.5,652.2 1064.5,661.5 1070.5,672.8 1076.5,669.6 1082.5,675.0 1088.5,676.4 1094.5,694.1 1100.5,693.1 1106.5,692.9 1112.5,703.4 1118.5,701.6 1124.5,686.1 1130.5,651.2 1136.5,645.4 1142.5,645.4 1148.5,672.5 1154.5,702.6 1160.5,732.0 1166.5,729.1 1172.5,720.7 1178.5,693.1 1184.5,673.3 1190.5,663.0 1196.5,676.5 1201.5,672.9 1207.5,658.9 1213.5,664.5 1219.5,675.5 1225.5,712.5 1231.5,733.6 1237.5,753.9 1243.5,735.6 1249.5,728.7 1255.5,726.4 1261.5,744.8 1267.5,743.4" fill="none" stroke="#2196f3" stroke-width="1.15" stroke-linejoin="round"/>
<polyline points="0.5,659.4 6.5,646.8 12.5,640.1 18.5,641.7 24.5,649.9 30.5,669.5 36.5,695.6 42.5,724.1 48.5,734.3 54.5,729.1 60.5,708.8 66.5,703.7 72.5,716.1 78.5,741.7 84.5,758.1 90.5,761.5 96.5,757.3 102.5,745.0 108.5,725.3 114.5,700.4 119.5,687.8 125.5,697.8 131.5,712.7 137.5,720.1 143.5,706.9 149.5,697.3 155.5,694.1 161.5,700.2 167.5,704.3 173.5,709.5 179.5,721.8 185.5,731.0 191.5,732.8 197.5,719.7 203.5,710.4 209.5,705.9 215.5,715.7 221.5,724.0 227.5,728.0 233.5,712.2 239.5,697.8 245.5,686.8 251.5,695.8 257.5,700.2 263.5,704.3 269.5,695.2 275.5,690.6 281.5,680.9 287.5,684.8 293.5,690.5 299.5,702.7 305.5,702.6 311.5,693.3 317.5,680.4 323.5,666.2 329.5,656.6 335.5,650.8 341.5,650.9 347.5,652.0 353.5,649.0 359.5,651.2 365.5,664.1 371.5,693.6 377.5,723.0 383.5,745.4 388.5,754.0 394.5,757.0 400.5,757.8 406.5,755.9 412.5,755.4 418.5,753.5 424.5,757.5 430.5,761.4 436.5,761.1 442.5,755.7 448.5,739.0 454.5,721.3 460.5,694.3 466.5,673.3 472.5,658.7 478.5,661.2 484.5,673.1 490.5,693.1 496.5,712.0 502.5,734.0 508.5,742.6 514.5,748.6 520.5,744.7 526.5,749.9 532.5,755.2 538.5,758.9 544.5,757.6 550.5,751.9 556.5,743.4 562.5,721.8 568.5,694.1 574.5,674.2 580.5,676.9 586.5,697.1 592.5,720.6 598.5,739.1 604.5,741.6 610.5,731.9 616.5,705.9 622.5,683.0 628.5,664.9 634.5,661.3 640.5,665.2 646.5,669.4 652.5,668.3 657.5,660.4 663.5,652.4 669.5,646.6 675.5,646.9 681.5,650.4 687.5,662.0 693.5,678.4 699.5,696.2 705.5,705.5 711.5,700.3 717.5,689.3 723.5,674.8 729.5,666.1 735.5,659.4 741.5,662.7 747.5,671.2 753.5,688.2 759.5,700.6 765.5,701.6 771.5,685.2 777.5,663.5 783.5,650.2 789.5,646.2 795.5,652.9 801.5,664.3 807.5,678.8 813.5,685.1 819.5,685.6 825.5,690.9 831.5,707.0 837.5,728.9 843.5,746.8 849.5,750.4 855.5,742.9 861.5,725.4 867.5,709.3 873.5,703.1 879.5,710.4 885.5,731.7 891.5,743.0 897.5,734.6 903.5,709.6 909.5,686.0 915.5,679.0 921.5,682.0 927.5,686.3 932.5,696.0 938.5,695.6 944.5,699.3 950.5,680.4 956.5,666.8 962.5,648.5 968.5,644.7 974.5,642.8 980.5,645.0 986.5,644.7 992.5,644.4 998.5,644.8 1004.5,647.8 1010.5,655.0 1016.5,668.0 1022.5,682.3 1028.5,689.2 1034.5,679.0 1040.5,662.9 1046.5,648.1 1052.5,643.6 1058.5,645.5 1064.5,652.3 1070.5,662.2 1076.5,668.0 1082.5,672.5 1088.5,673.7 1094.5,681.8 1100.5,687.9 1106.5,693.3 1112.5,696.5 1118.5,699.3 1124.5,697.0 1130.5,679.6 1136.5,660.9 1142.5,647.4 1148.5,654.4 1154.5,673.5 1160.5,702.4 1166.5,721.2 1172.5,727.3 1178.5,714.3 1184.5,695.7 1190.5,676.5 1196.5,670.9 1201.5,670.8 1207.5,669.4 1213.5,665.4 1219.5,666.3 1225.5,684.2 1231.5,707.2 1237.5,733.4 1243.5,741.1 1249.5,739.4 1255.5,730.2 1261.5,733.3 1267.5,738.2" fill="none" stroke="#ff6d00" stroke-width="1.15" stroke-linejoin="round"/>
<rect x="1766" y="0" width="88" height="816" fill="#fff"/>
<rect x="0" y="782" width="1854" height="34" fill="#fff"/>
<g shape-rendering="crispEdges" fill="#d9dbe1">
<rect x="1765" y="0" width="1" height="816"/>
<rect x="0" y="622" width="1849" height="1"/>
<rect x="0" y="781" width="1849" height="1"/>
<rect x="1766" y="598" width="4" height="1"/>
<rect x="1766" y="552" width="4" height="1"/>
<rect x="1766" y="507" width="4" height="1"/>
<rect x="1766" y="461" width="4" height="1"/>
<rect x="1766" y="416" width="4" height="1"/>
<rect x="1766" y="370" width="4" height="1"/>
<rect x="1766" y="325" width="4" height="1"/>
<rect x="1766" y="234" width="4" height="1"/>
<rect x="1766" y="188" width="4" height="1"/>
<rect x="1766" y="143" width="4" height="1"/>
<rect x="1766" y="97" width="4" height="1"/>
<rect x="1766" y="52" width="4" height="1"/>
<rect x="1766" y="6" width="4" height="1"/>
<rect x="1766" y="771" width="4" height="1"/>
<rect x="1766" y="717" width="4" height="1"/>
<rect x="1766" y="663" width="4" height="1"/>
<rect x="30" y="782" width="1" height="4"/>
<rect x="161" y="782" width="1" height="4"/>
<rect x="287" y="782" width="1" height="4"/>
<rect x="424" y="782" width="1" height="4"/>
<rect x="556" y="782" width="1" height="4"/>
<rect x="681" y="782" width="1" height="4"/>
<rect x="813" y="782" width="1" height="4"/>
<rect x="938" y="782" width="1" height="4"/>
<rect x="1070" y="782" width="1" height="4"/>
<rect x="1190" y="782" width="1" height="4"/>
<rect x="1333" y="782" width="1" height="4"/>
<rect x="1453" y="782" width="1" height="4"/>
<rect x="1590" y="782" width="1" height="4"/>
<rect x="1722" y="782" width="1" height="4"/>
</g>
<text x="1778" y="604.0" font-size="16" fill="#131722" font-weight="normal" text-anchor="start" textLength="58" lengthAdjust="spacingAndGlyphs">7200.00</text>
<text x="1778" y="558.0" font-size="16" fill="#131722" font-weight="normal" text-anchor="start" textLength="58" lengthAdjust="spacingAndGlyphs">7400.00</text>
<text x="1778" y="513.0" font-size="16" fill="#131722" font-weight="normal" text-anchor="start" textLength="58" lengthAdjust="spacingAndGlyphs">7600.00</text>
<text x="1778" y="467.0" font-size="16" fill="#131722" font-weight="normal" text-anchor="start" textLength="58" lengthAdjust="spacingAndGlyphs">7800.00</text>
<text x="1778" y="422.0" font-size="16" fill="#131722" font-weight="normal" text-anchor="start" textLength="58" lengthAdjust="spacingAndGlyphs">8000.00</text>
<text x="1778" y="376.0" font-size="16" fill="#131722" font-weight="normal" text-anchor="start" textLength="58" lengthAdjust="spacingAndGlyphs">8200.00</text>
<text x="1778" y="331.0" font-size="16" fill="#131722" font-weight="normal" text-anchor="start" textLength="58" lengthAdjust="spacingAndGlyphs">8400.00</text>
<text x="1778" y="240.0" font-size="16" fill="#131722" font-weight="normal" text-anchor="start" textLength="58" lengthAdjust="spacingAndGlyphs">8800.00</text>
<text x="1778" y="194.0" font-size="16" fill="#131722" font-weight="normal" text-anchor="start" textLength="58" lengthAdjust="spacingAndGlyphs">9000.00</text>
<text x="1778" y="149.0" font-size="16" fill="#131722" font-weight="normal" text-anchor="start" textLength="58" lengthAdjust="spacingAndGlyphs">9200.00</text>
<text x="1778" y="103.0" font-size="16" fill="#131722" font-weight="normal" text-anchor="start" textLength="58" lengthAdjust="spacingAndGlyphs">9400.00</text>
<text x="1778" y="58.0" font-size="16" fill="#131722" font-weight="normal" text-anchor="start" textLength="58" lengthAdjust="spacingAndGlyphs">9600.00</text>
<text x="1778" y="12.0" font-size="16" fill="#131722" font-weight="normal" text-anchor="start" textLength="58" lengthAdjust="spacingAndGlyphs">9800.00</text>
<text x="1778" y="777.0" font-size="16" fill="#131722" font-weight="normal" text-anchor="start" textLength="32" lengthAdjust="spacingAndGlyphs">0.00</text>
<text x="1778" y="723.0" font-size="16" fill="#131722" font-weight="normal" text-anchor="start" textLength="41.5" lengthAdjust="spacingAndGlyphs">40.00</text>
<text x="1778" y="669.0" font-size="16" fill="#131722" font-weight="normal" text-anchor="start" textLength="41.5" lengthAdjust="spacingAndGlyphs">80.00</text>
<text x="29.7" y="805" font-size="16" fill="#131722" font-weight="normal" text-anchor="middle">Jun</text>
<text x="160.7" y="805" font-size="16" fill="#131722" font-weight="normal" text-anchor="middle">Jul</text>
<text x="286.7" y="805" font-size="16" fill="#131722" font-weight="normal" text-anchor="middle">Aug</text>
<text x="423.7" y="805" font-size="16" fill="#131722" font-weight="normal" text-anchor="middle">Sep</text>
<text x="555.7" y="805" font-size="16" fill="#131722" font-weight="normal" text-anchor="middle">Oct</text>
<text x="680.7" y="805" font-size="16" fill="#131722" font-weight="normal" text-anchor="middle">Nov</text>
<text x="812.7" y="805" font-size="16" fill="#131722" font-weight="normal" text-anchor="middle">Dec</text>
<text x="919.0" y="805" font-size="16" fill="#131722" font-weight="bold" text-anchor="start" textLength="37.5" lengthAdjust="spacingAndGlyphs">2023</text>
<text x="1069.7" y="805" font-size="16" fill="#131722" font-weight="normal" text-anchor="middle">Feb</text>
<text x="1189.7" y="805" font-size="16" fill="#131722" font-weight="normal" text-anchor="middle">Mar</text>
<text x="1332.7" y="805" font-size="16" fill="#131722" font-weight="normal" text-anchor="middle">Apr</text>
<text x="1452.7" y="805" font-size="16" fill="#131722" font-weight="normal" text-anchor="middle">May</text>
<text x="1589.7" y="805" font-size="16" fill="#131722" font-weight="normal" text-anchor="middle">Jun</text>
<text x="1721.7" y="805" font-size="16" fill="#131722" font-weight="normal" text-anchor="middle">Jul</text>
<path d="M1765 54h78a2 2 0 0 1 2 2v21a2 2 0 0 1-2 2h-78z" fill="#f44336"/>
<rect x="1766" y="66" width="4" height="1" fill="#fff" fill-opacity="0.8" shape-rendering="crispEdges"/>
<text x="1778" y="72.9" font-size="16" fill="#fff" font-weight="bold" text-anchor="start" textLength="59.5" lengthAdjust="spacingAndGlyphs">9537.28</text>
<path d="M1765 150h78a2 2 0 0 1 2 2v21a2 2 0 0 1-2 2h-78z" fill="#f44336"/>
<rect x="1766" y="162" width="4" height="1" fill="#fff" fill-opacity="0.8" shape-rendering="crispEdges"/>
<text x="1778" y="168.9" font-size="16" fill="#fff" font-weight="bold" text-anchor="start" textLength="59.5" lengthAdjust="spacingAndGlyphs">9114.89</text>
<path d="M1765 222h78a2 2 0 0 1 2 2v21a2 2 0 0 1-2 2h-78z" fill="#f44336"/>
<rect x="1766" y="234" width="4" height="1" fill="#fff" fill-opacity="0.8" shape-rendering="crispEdges"/>
<text x="1778" y="240.9" font-size="16" fill="#fff" font-weight="bold" text-anchor="start" textLength="59.5" lengthAdjust="spacingAndGlyphs">8799.86</text>
<path d="M1765 260h78a2 2 0 0 1 2 2v21a2 2 0 0 1-2 2h-78z" fill="#26a69a"/>
<rect x="1766" y="272" width="4" height="1" fill="#fff" fill-opacity="0.8" shape-rendering="crispEdges"/>
<text x="1778" y="278.9" font-size="16" fill="#fff" font-weight="bold" text-anchor="start" textLength="59.5" lengthAdjust="spacingAndGlyphs">8633.90</text>
<path d="M1764 260h-57a2 2 0 0 0 -2 2v21a2 2 0 0 0 2 2h57z" fill="#26a69a"/>
<text x="1712" y="276.5" font-size="14.5" fill="#fff" font-weight="bold" text-anchor="start" textLength="42.5" lengthAdjust="spacingAndGlyphs">Esp35</text>
<text x="1480" y="267.7" font-size="12" fill="#f44336" font-weight="normal" text-anchor="start" textLength="79.8" lengthAdjust="spacingAndGlyphs">0.382(8637.72)</text>
<text x="1480.4" y="330.7" font-size="12" fill="#4caf50" font-weight="normal" text-anchor="start" textLength="67.5" lengthAdjust="spacingAndGlyphs">0.5(8360.57)</text>
<text x="1480.4" y="393.7" font-size="12" fill="#4caf50" font-weight="normal" text-anchor="start" textLength="79.8" lengthAdjust="spacingAndGlyphs">0.618(8083.41)</text>
<rect x="-10" y="774.5" width="11.5" height="24" rx="3" fill="#fff" stroke="#dfe2ee"/>
<g stroke="#131722" stroke-width="1.05" fill="none"><circle cx="1807.5" cy="800.5" r="5.2"/>
<line x1="1812.70" y1="800.50" x2="1815.10" y2="800.50"/>
<line x1="1811.18" y1="804.18" x2="1812.87" y2="805.87"/>
<line x1="1807.50" y1="805.70" x2="1807.50" y2="808.10"/>
<line x1="1803.82" y1="804.18" x2="1802.13" y2="805.87"/>
<line x1="1802.30" y1="800.50" x2="1799.90" y2="800.50"/>
<line x1="1803.82" y1="796.82" x2="1802.13" y2="795.13"/>
<line x1="1807.50" y1="795.30" x2="1807.50" y2="792.90"/>
<line x1="1811.18" y1="796.82" x2="1812.87" y2="795.13"/>
</g>
<text x="9.5" y="20" font-size="15" fill="#131722" textLength="69.8" lengthAdjust="spacingAndGlyphs">Esp35 <tspan fill="#9598a1">·</tspan> 1D</text>
<circle cx="103.8" cy="14" r="8.8" fill="#089981" fill-opacity="0.15"/><circle cx="103.8" cy="14" r="3.9" fill="#089981"/>
<text x="129" y="20" font-size="13" textLength="55.4" lengthAdjust="spacingAndGlyphs"><tspan fill="#5d606b">O</tspan><tspan fill="#22ab94">8563.99</tspan></text>
<text x="190.9" y="20" font-size="13" textLength="54.4" lengthAdjust="spacingAndGlyphs"><tspan fill="#5d606b">H</tspan><tspan fill="#22ab94">8687.00</tspan></text>
<text x="252" y="20" font-size="13" textLength="52.6" lengthAdjust="spacingAndGlyphs"><tspan fill="#5d606b">L</tspan><tspan fill="#22ab94">8501.98</tspan></text>
<text x="311.6" y="20" font-size="13" textLength="53.9" lengthAdjust="spacingAndGlyphs"><tspan fill="#5d606b">C</tspan><tspan fill="#22ab94">8633.90</tspan></text>
<text x="372.2" y="20" font-size="13" fill="#22ab94" font-weight="normal" text-anchor="start" textLength="91.4" lengthAdjust="spacingAndGlyphs">−84.33 (−0.97%)</text>
<rect x="8.5" y="30.5" width="61" height="37" rx="4" fill="#fff" stroke="#ef5350"/>
<text x="16.2" y="53.8" font-size="12" fill="#ef5350" font-weight="normal" text-anchor="start" textLength="44.6" lengthAdjust="spacingAndGlyphs">8633.90</text>
<text x="74.7" y="41" font-size="11" fill="#50535e" font-weight="normal" text-anchor="start" textLength="21" lengthAdjust="spacingAndGlyphs">2.14</text>
<rect x="74" y="46.5" width="23" height="21.5" rx="4" fill="#f0f3fa"/>
<text x="85.5" y="60.8" font-size="13" fill="#131722" font-weight="normal" text-anchor="middle">5</text>
<rect x="101.5" y="30.5" width="60" height="37" rx="4" fill="#fff" stroke="#26a69a"/>
<text x="108.7" y="53.8" font-size="12" fill="#26a69a" font-weight="normal" text-anchor="start" textLength="45.3" lengthAdjust="spacingAndGlyphs">8636.04</text>
<rect x="4" y="97" width="148" height="1" fill="#fff" fill-opacity="0.85"/>
<text x="9.5" y="88.8" font-size="12" textLength="85.2" lengthAdjust="spacingAndGlyphs"><tspan fill="#131722">EMA</tspan><tspan fill="#5d606b"> 21 close 0</tspan></text>
<text x="103" y="88.8" font-size="12" fill="#e91e63" font-weight="normal" text-anchor="start" textLength="45" lengthAdjust="spacingAndGlyphs">9100.38</text>
<text x="9.5" y="112.6" font-size="12" textLength="85.2" lengthAdjust="spacingAndGlyphs"><tspan fill="#131722">EMA</tspan><tspan fill="#5d606b"> 13 close 0</tspan></text>
<text x="103" y="112.6" font-size="12" fill="#9c27b0" font-weight="normal" text-anchor="start" textLength="45" lengthAdjust="spacingAndGlyphs">9033.63</text>
<rect x="9.5" y="122.5" width="28" height="20" rx="3" fill="#fff" stroke="#d1d4dc"/>
<path d="M19.3 134.8L23.5 130.8L27.7 134.8" fill="none" stroke="#131722" stroke-width="1.3"/>
<text x="9.3" y="643.7" font-size="12" fill="#131722" font-weight="normal" text-anchor="start" textLength="30.7" lengthAdjust="spacingAndGlyphs">Stoch</text>
<text x="45.5" y="643.7" font-size="12" fill="#5d606b" font-weight="normal" text-anchor="start" textLength="27" lengthAdjust="spacingAndGlyphs">5 3 3</text>
<text x="82" y="643.7" font-size="12" fill="#2196f3" font-weight="normal" text-anchor="start" textLength="30.5" lengthAdjust="spacingAndGlyphs">20.52</text>
<text x="119.5" y="643.7" font-size="12" fill="#ff6d00" font-weight="normal" text-anchor="start" textLength="31.2" lengthAdjust="spacingAndGlyphs">24.42</text>
</svg></body></html>
